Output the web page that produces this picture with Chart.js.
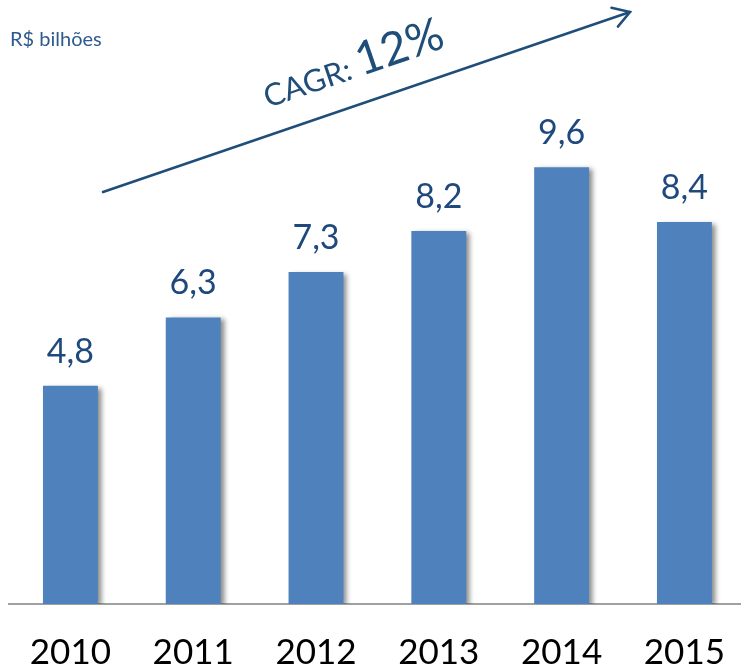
<!DOCTYPE html>
<html><head><meta charset="utf-8">
<script src="https://cdn.jsdelivr.net/npm/chart.js@4/dist/chart.umd.min.js"></script>
<style>
html,body{margin:0;padding:0;background:#fff;overflow:hidden;width:741px;height:669px}
#wrap{position:absolute;left:0;top:0;width:753px;height:669px}
</style></head><body>
<div id="wrap"><canvas id="c"></canvas></div>
<script>
const categories = ['2010','2011','2012','2013','2014','2015'];
const values = [4.8, 6.3, 7.3, 8.2, 9.6, 8.4];
const valueLabels = ['4,8','6,3','7,3','8,2','9,6','8,4'];
const unitLabel = 'R$ bilhões';
const cagrPrefix = 'CAGR: ';
const cagrValue = '12%';

const FONT = 'Lato, "Open Sans", sans-serif';
const DARK = '#1F497D';

const shadowPlugin = {
  id:'shadow',
  beforeDatasetsDraw(chart){
    const ctx = chart.ctx; ctx.save();
    ctx.shadowColor='rgba(0,0,0,0.45)'; ctx.shadowBlur=5; ctx.shadowOffsetX=4; ctx.shadowOffsetY=2;
  },
  afterDatasetsDraw(chart){
    chart.ctx.restore();
    const ctx = chart.ctx;
    const meta = chart.getDatasetMeta(0);
    ctx.save();
    ctx.fillStyle = DARK; ctx.font = '34px ' + FONT;
    ctx.textAlign='center'; ctx.textBaseline='middle';
    meta.data.forEach((bar,i)=>{ ctx.fillText(valueLabels[i], bar.x, bar.y - 34); });
    ctx.restore();
  }
};

const annotPlugin = {
  id:'annot',
  afterDraw(chart){
    const ctx = chart.ctx;
    ctx.save();
    ctx.fillStyle = '#2E5A8E'; ctx.font = '20px ' + FONT;
    ctx.textAlign='left'; ctx.textBaseline='middle';
    ctx.fillText(unitLabel, 10, 40);
    const x1=103,y1=192,x2=630,y2=12;
    ctx.strokeStyle = '#1F4E79'; ctx.lineWidth = 2.5; ctx.lineCap='round';
    ctx.beginPath(); ctx.moveTo(x1,y1); ctx.lineTo(x2,y2); ctx.stroke();
    const ang = Math.atan2(y2-y1, x2-x1), L=19, sp=0.55;
    ctx.beginPath();
    ctx.moveTo(x2 - L*Math.cos(ang-sp), y2 - L*Math.sin(ang-sp));
    ctx.lineTo(x2,y2);
    ctx.lineTo(x2 - L*Math.cos(ang+sp), y2 - L*Math.sin(ang+sp));
    ctx.stroke();
    ctx.translate(268,108); ctx.rotate(ang);
    ctx.fillStyle = '#1F4E79'; ctx.textBaseline='alphabetic';
    ctx.font = '31px ' + FONT;
    ctx.fillText(cagrPrefix, 0, 0);
    const w = ctx.measureText(cagrPrefix).width;
    ctx.font = '46px ' + FONT;
    ctx.fillText(cagrValue, w, 0);
    ctx.restore();
  }
};

new Chart(document.getElementById('c'), {
  type:'bar',
  data:{ labels:categories, datasets:[{ data:values, backgroundColor:'#4F81BD', borderWidth:0,
    barPercentage:0.447, categoryPercentage:1 }]},
  options:{
    responsive:true, maintainAspectRatio:false, animation:false,
    layout:{padding:{left:9,right:0,top:0,bottom:0}},
    plugins:{legend:{display:false}, tooltip:{enabled:false}},
    scales:{
      x:{ grid:{display:false, drawTicks:false}, border:{display:true,color:'#A0A0A0',width:2},
          ticks:{color:'#000', font:{family:FONT,size:35}, padding:28},
          afterFit(s){ s.height = 65; } },
      y:{ display:false, min:0, max:13.28 }
    }
  },
  plugins:[shadowPlugin, annotPlugin]
});
</script>
</body></html>
